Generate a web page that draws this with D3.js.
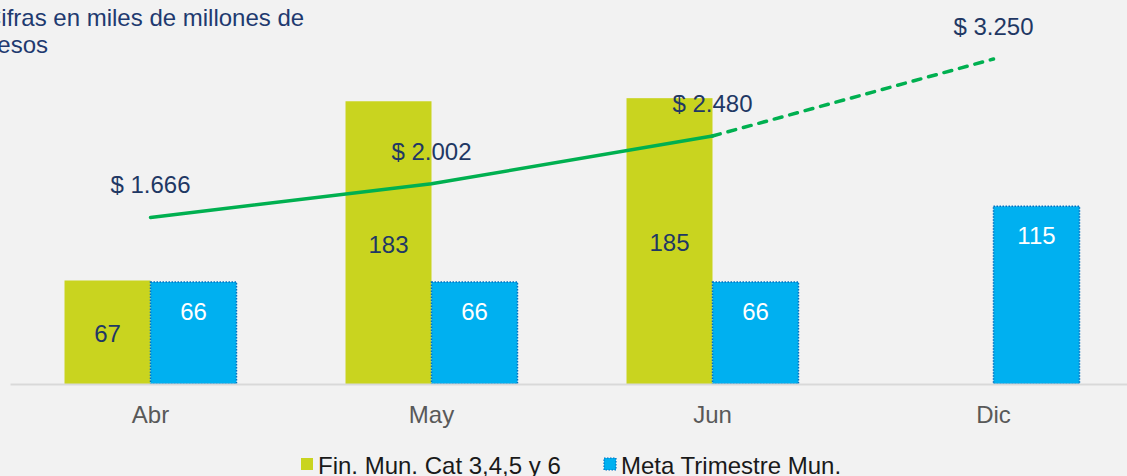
<!DOCTYPE html>
<html>
<head>
<meta charset="utf-8">
<script src="https://cdn.jsdelivr.net/npm/d3@7"></script>
<style>
  html, body { margin: 0; padding: 0; background: #f2f2f2; overflow: hidden; }
  svg { display: block; font-family: Arial, 'Liberation Sans', sans-serif; }
</style>
</head>
<body>
<svg id="chart"></svg>
<script>
// Data
const categories = ['Abr', 'May', 'Jun', 'Dic'];
const finMun = [67, 183, 185, null];          // Fin. Mun. Cat 3,4,5 y 6
const metaTrim = [66, 66, 66, 115];           // Meta Trimestre Mun.
const lineValues = [1666, 2002, 2480, 3250];  // acumulado, miles de millones
const projected = [false, false, false, true];
const seriesNames = ['Fin. Mun. Cat 3,4,5 y 6', 'Meta Trimestre Mun.'];
const titleLines = ['Cifras en miles de millones de', 'pesos'];

const W = 1127, H = 476;
const baseY = 384;
const colors = { fin: '#c9d41f', meta: '#00b0f0', metaStroke: '#0070c0', line: '#00b050', navy: '#1f3864' };

const svg = d3.select('#chart').attr('width', W).attr('height', H);
svg.append('rect').attr('width', W).attr('height', H).attr('fill', '#f2f2f2');

const locale = d3.formatLocale({ decimal: ',', thousands: '.', grouping: [3], currency: ['$ ', ''] });
const fmtMoney = locale.format('$,.0f');

// Scales
const x0 = d3.scaleBand().domain(categories).range([10, 1134]).paddingInner(0.388).paddingOuter(0.194);
const x1 = d3.scaleBand().domain(['fin', 'meta']).range([0, x0.bandwidth()]);
const yBar = d3.scaleLinear().domain([0, 250]).range([baseY, baseY - 250 * 1.545]);
const yLine = d3.scaleLinear().domain([0, 3840]).range([baseY, 0]);
const cx = c => x0(c) + x0.bandwidth() / 2;

// Title (cut off on the left like the slide)
const title = svg.append('text').attr('fill', '#1f3a70').attr('font-size', 24);
titleLines.forEach((t, i) => {
    title.append('tspan').attr('x', -16).attr('y', 26 + i * 27).text(t);
});

// Bars
const rows = categories.map((c, i) => ({ cat: c, fin: finMun[i], meta: metaTrim[i] }));

const g = svg.append('g');
rows.forEach(r => {
    if (r.fin != null) {
        g.append('rect')
            .attr('x', x0(r.cat) + x1('fin')).attr('width', x1.bandwidth())
            .attr('y', yBar(r.fin)).attr('height', baseY - yBar(r.fin))
            .attr('fill', colors.fin);
        g.append('text')
            .attr('x', x0(r.cat) + x1('fin') + x1.bandwidth() / 2)
            .attr('y', (yBar(r.fin) + baseY) / 2 + 10)
            .attr('text-anchor', 'middle').attr('font-size', 24).attr('fill', colors.navy)
            .text(r.fin);
    }
    if (r.meta != null) {
        g.append('rect')
            .attr('x', x0(r.cat) + x1('meta')).attr('width', x1.bandwidth())
            .attr('y', yBar(r.meta)).attr('height', baseY - yBar(r.meta))
            .attr('fill', colors.meta)
            .attr('stroke', colors.metaStroke).attr('stroke-width', 1.5).attr('stroke-dasharray', '1.5,1.5');
        g.append('text')
            .attr('x', x0(r.cat) + x1('meta') + x1.bandwidth() / 2)
            .attr('y', yBar(r.meta) + 38)
            .attr('text-anchor', 'middle').attr('font-size', 24).attr('fill', '#ffffff')
            .text(r.meta);
    }
});

// Axis
const axis = svg.append('g').attr('transform', `translate(0,${baseY})`)
    .call(d3.axisBottom(x0).tickSize(0).tickPadding(22));
axis.select('.domain').attr('stroke', '#d9d9d9').attr('stroke-width', 2);
axis.selectAll('text').attr('font-size', 24).attr('fill', '#595959').attr('font-family', 'Arial, Liberation Sans, sans-serif');

// Line (secondary axis)
const pts = categories.map((c, i) => ({ x: cx(c), y: yLine(lineValues[i]), v: lineValues[i], proj: projected[i] }));
const line = d3.line().x(d => d.x).y(d => d.y);
const solid = pts.filter(d => !d.proj);
const dashed = pts.filter((d, i) => d.proj || (pts[i + 1] && pts[i + 1].proj));

svg.append('path').datum(solid).attr('d', line)
    .attr('fill', 'none').attr('stroke', colors.line).attr('stroke-width', 3.5).attr('stroke-linecap', 'round');
svg.append('path').datum(dashed).attr('d', line)
    .attr('fill', 'none').attr('stroke', colors.line).attr('stroke-width', 3.5)
    .attr('stroke-linecap', 'round').attr('stroke-dasharray', '8,8');

svg.selectAll('.line-label').data(pts).enter().append('text')
    .attr('class', 'line-label')
    .attr('x', d => d.x).attr('y', d => d.y - 24)
    .attr('text-anchor', 'middle').attr('font-size', 24).attr('fill', colors.navy)
    .text(d => fmtMoney(d.v));

// Legend
const legend = svg.append('g').attr('transform', 'translate(0,474)');
const legItems = [
    { name: seriesNames[0], x: 301, fill: colors.fin, stroke: null },
    { name: seriesNames[1], x: 604, fill: colors.meta, stroke: colors.metaStroke }
];
legItems.forEach(d => {
    const sq = legend.append('rect').attr('x', d.x).attr('y', -16).attr('width', 12).attr('height', 12).attr('fill', d.fill);
    if (d.stroke) sq.attr('stroke', d.stroke).attr('stroke-width', 1.2).attr('stroke-dasharray', '1.5,1.5');
    legend.append('text').attr('x', d.x + 17).attr('y', 0).attr('font-size', 24).attr('fill', '#1a1a1a').text(d.name);
});
</script>
</body>
</html>
